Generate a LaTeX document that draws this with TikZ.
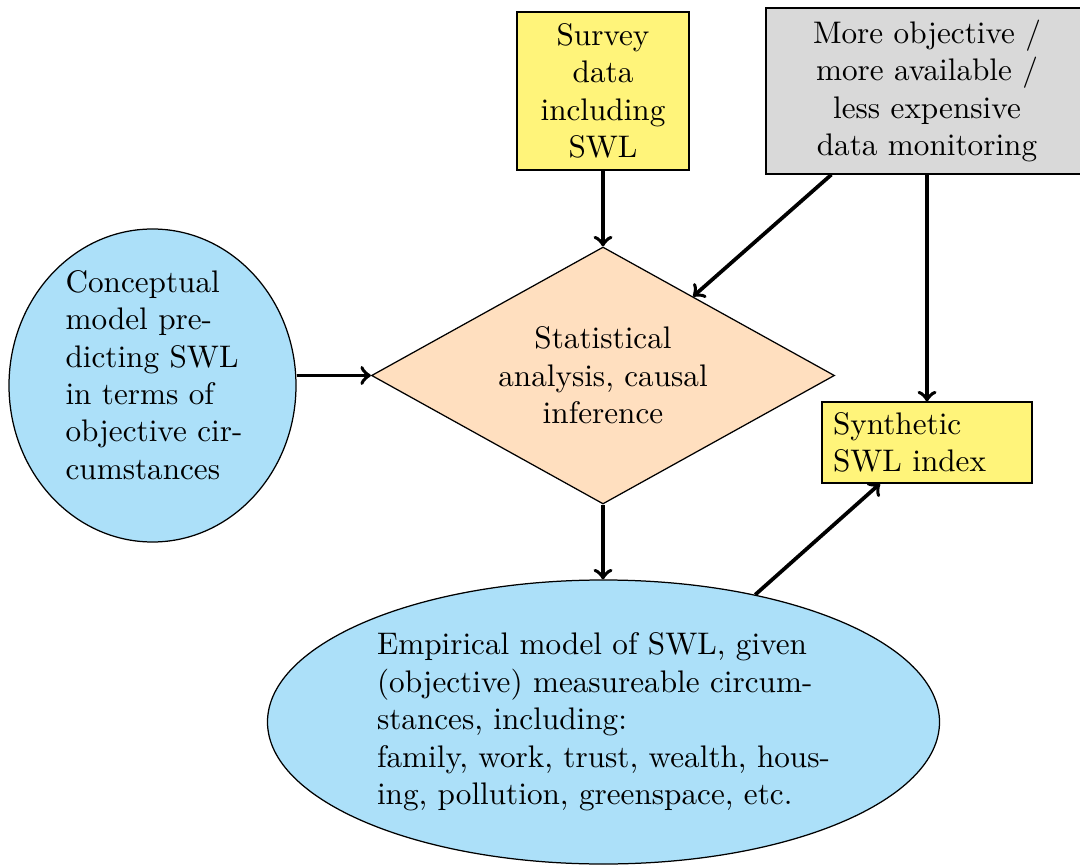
\documentclass[tikz,border=0pt]{standalone}
\usetikzlibrary{shapes.geometric,calc}
\definecolor{boxyellow}{RGB}{255,244,122}
\definecolor{boxgray}{RGB}{217,217,217}
\definecolor{ellblue}{RGB}{172,224,249}
\definecolor{peach}{RGB}{255,223,191}
\def\px{0.3205pt}
\begin{document}
\begin{tikzpicture}[x=0.3205pt,y=-0.3205pt,
  base/.style={draw=black,line width=0.4pt,inner sep=0pt},
  ybox/.style={base,rectangle,fill=boxyellow},
  gbox/.style={base,rectangle,fill=boxgray},
  ell/.style={base,ellipse,fill=ellblue,align=left},
  dia/.style={base,diamond,fill=peach,align=center,aspect=1.8},
  plain/.style={inner sep=0pt,align=left},
  arr/.style={very thick,->}]
\useasboundingbox (0,0) rectangle (1080,865);
\node[ybox,align=center,minimum width=172*\px,minimum height=158*\px] (survey) at (603,91)
  {Survey\\data\\including\\SWL};
\node[gbox,align=center,minimum width=322*\px,minimum height=166*\px] (gray) at (927,91)
  {More objective /\\more available /\\less expensive\\data monitoring};
\node[dia,minimum width=463*\px,minimum height=257*\px] (dia) at (603,375.5)
  {Statistical\\analysis, causal\\inference};
\node[ell,minimum width=287*\px,minimum height=313*\px] (concept) at (152.5,385.5) {};
\node[plain] (concepttext) at (154,375)
  {Conceptual\\model pre-\\dicting SWL\\in terms of\\objective cir-\\cumstances};
\node[ybox,align=left,text width=188*\px,inner xsep=11*\px,minimum height=81*\px] (syn) at (927,442.5)
  {Synthetic\\SWL index};
\node[ell,minimum width=672*\px,minimum height=284*\px] (emp) at (603.5,722)
  {Empirical model of SWL, given\\(objective) measureable circum-\\stances, including:\\family, work, trust, wealth, hous-\\ing, pollution, greenspace, etc.};
\coordinate (gsrc) at ($(gray.south west)+(66,0)$);
\draw[arr] (survey.south) -- (dia.north);
\draw[arr] (gsrc) -- ($(dia.north)!0.388!(dia.east)$);
\draw[arr] (syn.north |- gray.south) -- (syn.north);
\draw[arr] (concept.east |- dia.west) -- (dia.west);
\draw[arr] (dia.south) -- (dia.south |- emp.north);
\draw[arr] (emp.40.6) -- ($(syn.south)+(-47,0)$);
\end{tikzpicture}
\end{document}
